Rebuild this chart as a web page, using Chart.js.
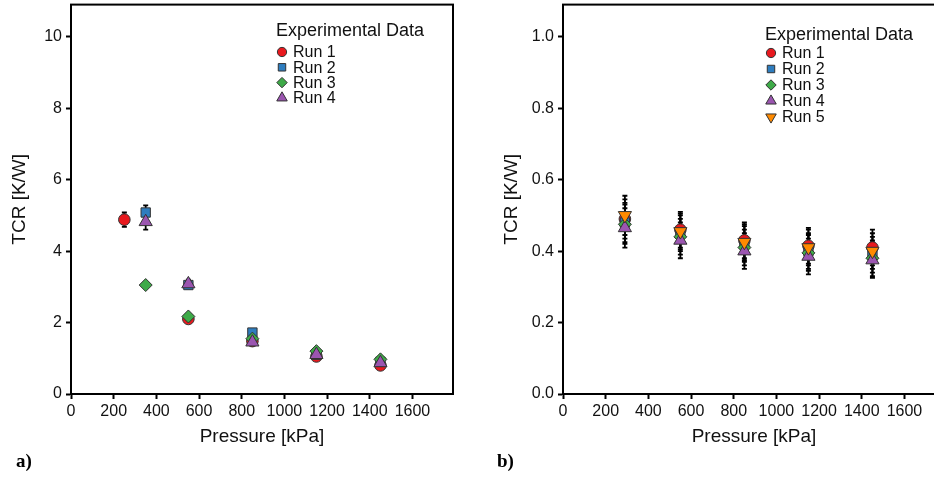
<!DOCTYPE html>
<html>
<head>
<meta charset="utf-8">
<script src="https://cdn.jsdelivr.net/npm/chart.js@4.4.1/dist/chart.umd.min.js"></script>
<style>
  html, body { margin: 0; padding: 0; background: #fff; overflow: hidden; width: 934px; height: 477px; }
  .panel { position: absolute; top: -4px; height: 481px; width: 470px; }
  #wrapA { left: 0; }
  #wrapB { left: 492px; }
  .tag { position: absolute; top: 450px; font: bold 19px "Liberation Serif", "DejaVu Serif", serif; color: #000; }
</style>
</head>
<body>
<div class="panel" id="wrapA"><canvas id="chartA" width="470" height="481"></canvas></div>
<div class="panel" id="wrapB"><canvas id="chartB" width="470" height="481"></canvas></div>
<div class="tag" style="left:16px">a)</div>
<div class="tag" style="left:497px">b)</div>
<script>
// ====== data ======
const xTicks = [0, 200, 400, 600, 800, 1000, 1200, 1400, 1600];
const yTicksA = [0, 2, 4, 6, 8, 10];
const yTicksB = [0, 0.2, 0.4, 0.6, 0.8, 1.0];

// panel a)
const pressureA1 = [250, 550, 850, 1150, 1450];
const pressureA = [350, 550, 850, 1150, 1450];
const tcrA1 = [4.88, 2.1, 1.48, 1.05, 0.8];
const errA1 = [0.2, 0.05, 0.05, 0.05, 0.05];
const tcrA2 = [5.08, 3.05, 1.72, 1.1, 0.9];
const errA2 = [0.2, 0.05, 0.05, 0.05, 0.05];
const tcrA3 = [3.05, 2.17, 1.55, 1.2, 0.97];
const errA3 = [0.05, 0.05, 0.05, 0.05, 0.05];
const tcrA4 = [4.82, 3.08, 1.45, 1.1, 0.87];
const errA4 = [0.22, 0.12, 0.05, 0.05, 0.05];

// panel b)
const pressureB = [290, 550, 850, 1150, 1450];
const tcrB1 = [0.49, 0.46, 0.43, 0.415, 0.41];
const tcrB2 = [0.48, 0.45, 0.42, 0.40, 0.39];
const tcrB3 = [0.475, 0.44, 0.41, 0.395, 0.38];
const tcrB4 = [0.465, 0.43, 0.40, 0.385, 0.375];
const tcrB5 = [0.50, 0.455, 0.425, 0.41, 0.40];
const errB = [0.055, 0.05, 0.05, 0.05, 0.05];

const runNames = ["Run 1", "Run 2", "Run 3", "Run 4", "Run 5"];
const FONT = "'Liberation Sans', Arial, sans-serif";

const styles = [
  { bg: "#e8191e", pointStyle: "circle", r: 5.8, rot: 0 },
  { bg: "#2e7dbf", pointStyle: "rect", r: 6.6, rot: 0 },
  { bg: "#3eaa48", pointStyle: "rectRot", r: 6.5, rot: 0 },
  { bg: "#9b55b0", pointStyle: "triangle", r: 7.6, rot: 0 },
  { bg: "#ff8a00", pointStyle: "triangle", r: 7.6, rot: 180 }
];

function ds(i, xs, ys, errs) {
  const s = styles[i];
  return {
    label: runNames[i],
    data: xs.map((x, k) => ({ x: x, y: ys[k] })),
    errors: errs,
    order: -i, // later runs on top
    showLine: false,
    backgroundColor: s.bg,
    borderColor: "#333",
    borderWidth: 1,
    pointStyle: s.pointStyle,
    pointRadius: s.r,
    pointRotation: s.rot
  };
}

// error bars drawn under the markers
const errorBars = {
  id: "errorBars",
  beforeDatasetsDraw(chart) {
    const ctx = chart.ctx, y = chart.scales.y;
    ctx.save();
    ctx.strokeStyle = "#000";
    ctx.lineWidth = 1.8;
    chart.data.datasets.forEach((d, di) => {
      chart.getDatasetMeta(di).data.forEach((pt, k) => {
        const e = d.errors[k];
        const top = y.getPixelForValue(d.data[k].y + e);
        const bot = y.getPixelForValue(d.data[k].y - e);
        ctx.beginPath();
        ctx.moveTo(pt.x, top); ctx.lineTo(pt.x, bot);
        ctx.moveTo(pt.x - 2.5, top); ctx.lineTo(pt.x + 2.5, top);
        ctx.moveTo(pt.x - 2.5, bot); ctx.lineTo(pt.x + 2.5, bot);
        ctx.stroke();
      });
    });
    ctx.restore();
  }
};

// frame around the plot area + legend inside
const frameLegend = {
  id: "frameLegend",
  afterDraw(chart, args, opts) {
    const ctx = chart.ctx, a = chart.chartArea;
    ctx.save();
    ctx.strokeStyle = "#000";
    ctx.lineWidth = 2;
    ctx.strokeRect(a.left, a.top, a.right - a.left, a.bottom - a.top);

    ctx.fillStyle = "#111";
    ctx.textBaseline = "middle";
    ctx.font = "18px " + FONT;
    ctx.fillText("Experimental Data", opts.x - 6, opts.y);
    ctx.font = "16px " + FONT;
    chart.data.datasets.forEach((d, i) => {
      const yy = opts.y + opts.first + i * opts.step;
      ctx.fillStyle = d.backgroundColor;
      ctx.strokeStyle = "#333";
      ctx.lineWidth = 1;
      Chart.helpers.drawPoint(ctx, {
        pointStyle: d.pointStyle,
        radius: d.pointRadius * 0.8,
        rotation: d.pointRotation,
        borderWidth: 1
      }, opts.x, yy);
      ctx.fillStyle = "#111";
      ctx.fillText(d.label, opts.x + 11, yy + 1);
    });
    ctx.restore();
  }
};

function makeChart(id, datasets, yMax, yTicks, fmt, legend) {
  return new Chart(document.getElementById(id), {
    type: "scatter",
    data: { datasets: datasets },
    plugins: [errorBars, frameLegend],
    options: {
      responsive: false,
      animation: false,
      layout: { padding: { left: 0, right: 17, top: 1, bottom: 25 } },
      plugins: {
        legend: { display: false },
        tooltip: { enabled: false },
        frameLegend: legend
      },
      scales: {
        x: {
          type: "linear", min: 0, max: 1790,
          afterBuildTicks: s => { s.ticks = xTicks.map(v => ({ value: v })); },
          afterFit: s => { s.height = 58; s.paddingLeft = 0; s.paddingRight = 0; },
          grid: { drawOnChartArea: false, drawTicks: true, tickLength: 5, tickWidth: 2, tickColor: "#000" },
          border: { display: true, color: "#000", width: 2 },
          ticks: { font: { size: 16, family: FONT }, color: "#111", padding: 3, maxRotation: 0, autoSkip: false, callback: v => String(v) },
          title: { display: true, text: "Pressure [kPa]", font: { size: 19, family: FONT }, color: "#111", padding: { top: 0, bottom: 4 } }
        },
        y: {
          type: "linear", min: 0, max: yMax,
          afterBuildTicks: s => { s.ticks = yTicks.map(v => ({ value: v })); },
          afterFit: s => { s.width = 71; s.paddingTop = 0; s.paddingBottom = 0; },
          grid: { drawOnChartArea: false, drawTicks: true, tickLength: 5, tickWidth: 2, tickColor: "#000" },
          border: { display: true, color: "#000", width: 2 },
          ticks: { font: { size: 16, family: FONT }, color: "#111", padding: 4, callback: fmt },
          title: { display: true, text: "TCR [K/W]", font: { size: 19, family: FONT }, color: "#111", padding: { top: 8, bottom: 0 } }
        }
      }
    }
  });
}

makeChart("chartA", [
  ds(0, pressureA1, tcrA1, errA1),
  ds(1, pressureA, tcrA2, errA2),
  ds(2, pressureA, tcrA3, errA3),
  ds(3, pressureA, tcrA4, errA4)
], 10.9, yTicksA, v => String(v), { x: 282, y: 35, first: 21, step: 15.3 });

makeChart("chartB", [
  ds(0, pressureB, tcrB1, errB),
  ds(1, pressureB, tcrB2, errB),
  ds(2, pressureB, tcrB3, errB),
  ds(3, pressureB, tcrB4, errB),
  ds(4, pressureB, tcrB5, errB)
], 1.09, yTicksB, v => v.toFixed(1), { x: 279, y: 39, first: 18, step: 16 });
</script>
</body>
</html>
